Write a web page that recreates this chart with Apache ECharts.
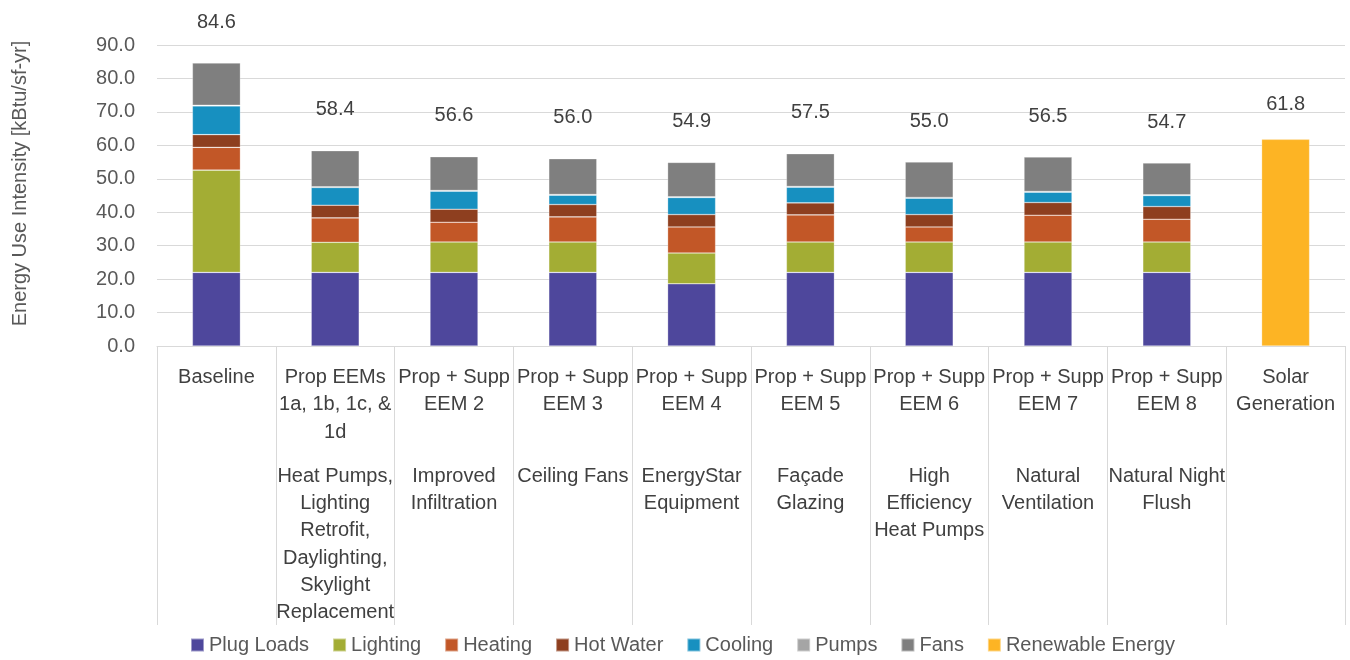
<!DOCTYPE html>
<html>
<head>
<meta charset="utf-8">
<script src="https://cdn.jsdelivr.net/npm/echarts@6/dist/echarts.min.js"></script>
<style>
  html, body { margin: 0; padding: 0; background: #fff; }
  #chart { width: 1350px; height: 660px; }
</style>
</head>
<body>
<div id="chart"></div>
<script>
// Scenario titles (upper block of each category label)
const categoryTitles = [
  'Baseline',
  'Prop EEMs\n1a, 1b, 1c, &\n1d',
  'Prop + Supp\nEEM 2',
  'Prop + Supp\nEEM 3',
  'Prop + Supp\nEEM 4',
  'Prop + Supp\nEEM 5',
  'Prop + Supp\nEEM 6',
  'Prop + Supp\nEEM 7',
  'Prop + Supp\nEEM 8',
  'Solar\nGeneration'
];
// Measure descriptions (lower block of each category label)
const categoryNotes = [
  '',
  'Heat Pumps,\nLighting\nRetrofit,\nDaylighting,\nSkylight\nReplacement',
  'Improved\nInfiltration',
  'Ceiling Fans',
  'EnergyStar\nEquipment',
  'Façade\nGlazing',
  'High\nEfficiency\nHeat Pumps',
  'Natural\nVentilation',
  'Natural Night\nFlush',
  ''
];

// End-use EUI by scenario [kBtu/sf-yr]; the solar column carries only renewable energy
const plugLoads = [22.0, 22.0, 22.0, 22.0, 18.6, 22.0, 22.0, 22.0, 22.0, null];
const lighting  = [30.6,  9.0,  9.1,  9.1,  9.2,  9.1,  9.1,  9.1,  9.1, null];
const heating   = [ 6.8,  7.3,  5.9,  7.5,  7.8,  8.1,  4.5,  8.0,  6.8, null];
const hotWater  = [ 3.8,  3.8,  3.9,  3.7,  3.7,  3.6,  3.7,  3.8,  3.8, null];
const cooling   = [ 8.6,  5.3,  5.4,  2.8,  5.1,  4.7,  4.9,  3.1,  3.3, null];
const pumps     = [ 0.2,  0.2,  0.2,  0.2,  0.2,  0.2,  0.2,  0.2,  0.2, null];
const fans      = [12.6, 10.8, 10.1, 10.7, 10.3,  9.8, 10.6, 10.3,  9.5, null];
const renewable = [null, null, null, null, null, null, null, null, null, 61.8];

const yTicks = { min: 0, max: 90, interval: 10 };

const seriesDefs = [
  { name: 'Plug Loads', data: plugLoads, color: '#4E479C' },
  { name: 'Lighting',   data: lighting,  color: '#A3AD34' },
  { name: 'Heating',    data: heating,   color: '#C25727' },
  { name: 'Hot Water',  data: hotWater,  color: '#8E3F1F' },
  { name: 'Cooling',    data: cooling,   color: '#1790C0' },
  { name: 'Pumps',      data: pumps,     color: '#A5A5A5' },
  { name: 'Fans',       data: fans,      color: '#7F7F7F' },
  { name: 'Renewable Energy', data: renewable, color: '#FDB424' }
];

// Stack totals for the end-use columns
const totals = categoryTitles.map((_, i) => {
  let s = 0;
  [plugLoads, lighting, heating, hotWater, cooling, pumps, fans].forEach(a => { s += a[i] || 0; });
  return Math.round(s * 10) / 10;
});

const FONT = '"Liberation Sans", Arial, sans-serif';
const FS = 20;
const LABEL_COLOR = '#404040';

function categoryLabel(value, idx) {
  const title = categoryTitles[idx].split('\n');
  const note = categoryNotes[idx] ? categoryNotes[idx].split('\n') : [];
  const lines = title.map(t => '{t|' + t + '}');
  if (note.length) {
    while (lines.length < 3) lines.push('{t| }');
    lines.push('{g| }');
    note.forEach(n => lines.push('{t|' + n + '}'));
  }
  return lines.join('\n');
}

function topLabel(distance, fmt) {
  return {
    show: true, position: 'top', distance: distance,
    formatter: fmt,
    fontFamily: FONT, fontSize: FS, color: LABEL_COLOR
  };
}

const chart = echarts.init(document.getElementById('chart'), null, { renderer: 'canvas' });

const series = seriesDefs.map(d => {
  let label = { show: false };
  if (d.name === 'Fans') label = topLabel(31, p => totals[p.dataIndex].toFixed(1));
  if (d.name === 'Renewable Energy') label = topLabel(25, p => p.value.toFixed(1));
  return {
    name: d.name,
    type: 'bar',
    stack: 'eui',
    barWidth: 48,
    data: d.data,
    itemStyle: { color: d.color, borderColor: 'rgba(255,255,255,0.45)', borderWidth: 0.6 },
    label: label,
    emphasis: { disabled: true }
  };
});

chart.setOption({
  animation: false,
  backgroundColor: '#ffffff',
  textStyle: { fontFamily: FONT },
  grid: { left: 157, right: 5, top: 45, bottom: 314, containLabel: false },
  legend: {
    data: seriesDefs.map(d => d.name),
    top: 635,
    left: 190,
    padding: 0,
    icon: 'rect',
    itemWidth: 13,
    itemHeight: 13,
    itemGap: 23,
    textStyle: { fontFamily: FONT, fontSize: FS, color: '#595959' }
  },
  xAxis: {
    type: 'category',
    data: categoryTitles,
    boundaryGap: true,
    axisLine: { show: true, lineStyle: { color: '#D9D9D9', width: 1 } },
    axisTick: { show: true, length: 279, lineStyle: { color: '#D9D9D9', width: 1 } },
    axisLabel: {
      interval: 0,
      margin: 18,
      formatter: categoryLabel,
      rich: {
        t: { fontFamily: FONT, fontSize: FS, color: LABEL_COLOR, lineHeight: 27.3, align: 'center' },
        g: { fontSize: 4, lineHeight: 16.7 }
      }
    }
  },
  yAxis: {
    type: 'value',
    min: yTicks.min,
    max: yTicks.max,
    interval: yTicks.interval,
    name: 'Energy Use Intensity [kBtu/sf-yr]',
    nameLocation: 'middle',
    nameGap: 127,
    nameTextStyle: { fontFamily: FONT, fontSize: FS, color: '#595959', padding: [0, 0, 0, 24] },
    axisLine: { show: false },
    axisTick: { show: false },
    axisLabel: {
      margin: 22,
      formatter: v => v.toFixed(1),
      fontFamily: FONT, fontSize: FS, color: '#595959'
    },
    splitLine: { lineStyle: { color: '#D9D9D9', width: 1.2 } }
  },
  series: series
});
</script>
</body>
</html>
